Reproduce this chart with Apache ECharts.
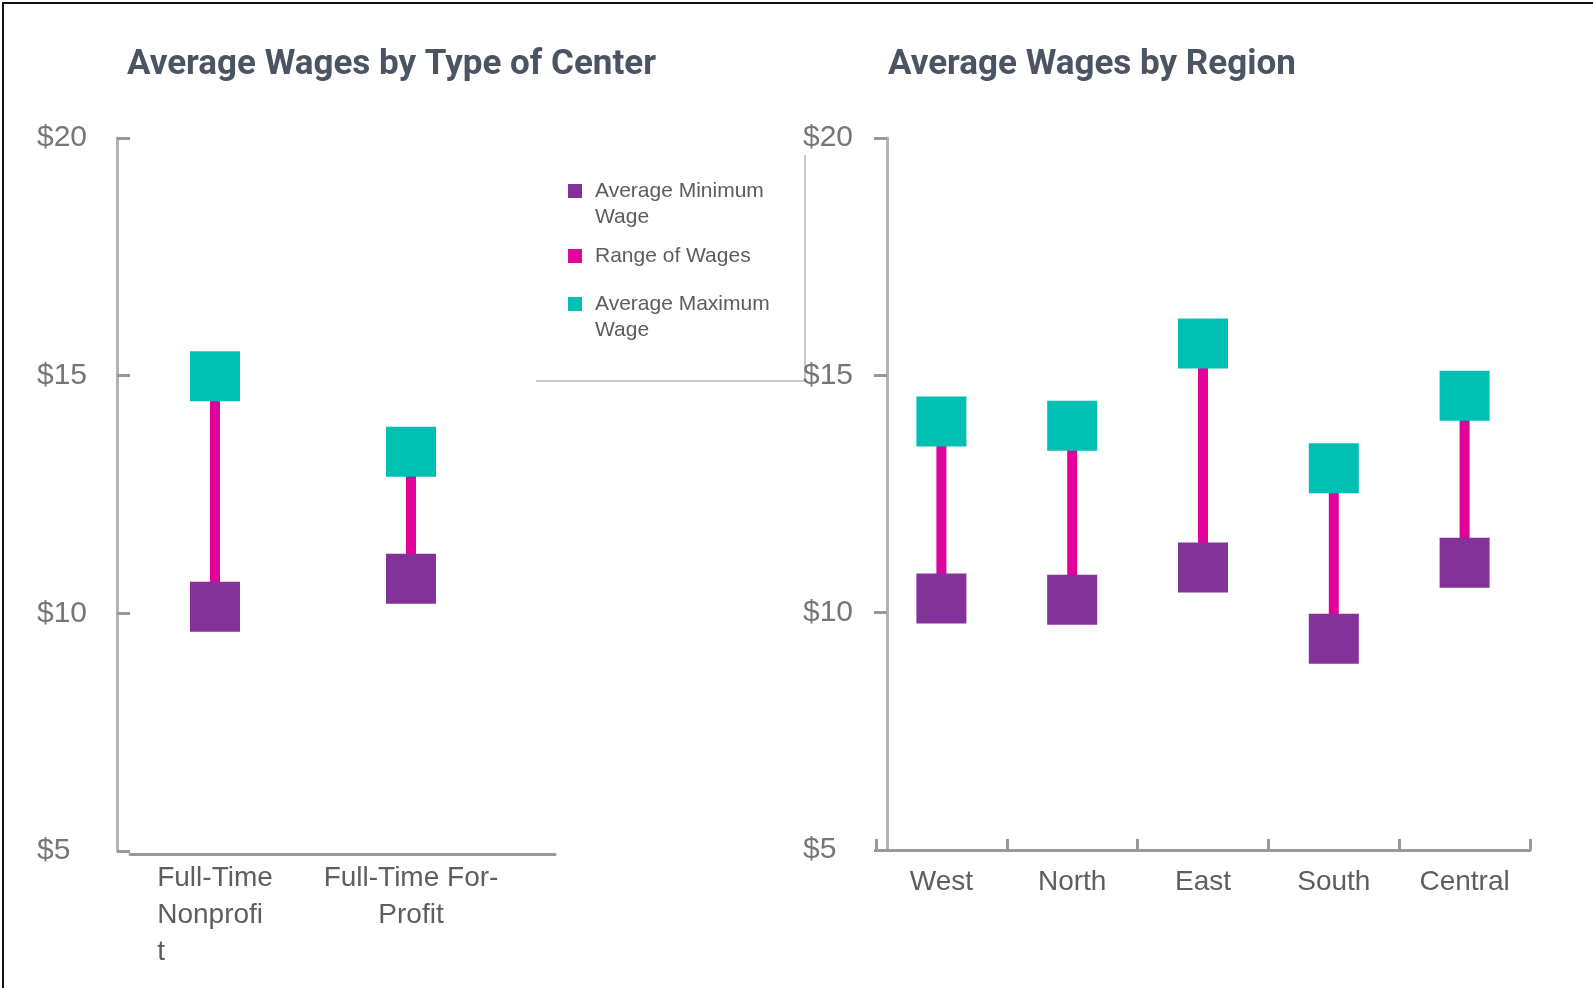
<!DOCTYPE html>
<html>
<head>
<meta charset="utf-8">
<script src="https://cdn.jsdelivr.net/npm/echarts@6/dist/echarts.min.js"></script>
<style>
* {
  margin: 0;
  padding: 0;
}
#chart-container {
  position: relative;
  width: 1593px;
  height: 988px;
  overflow: hidden;
  background: #fff;
}
#frame {
  position: absolute;
  left: 2px;
  top: 2px;
  right: 0;
  bottom: 0;
  border-top: 2px solid #111;
  border-left: 2px solid #111;
  pointer-events: none;
}
</style>
</head>
<body>
<div id="chart-container"></div>
<div id="frame"></div>
<script>
// values
const typeCategories = ['Full-Time\nNonprofi\nt', 'Full-Time For-\nProfit']
const typeMin = [10.14, 10.73]
const typeMax = [14.99, 13.4]

const regionCategories = ['West', 'North', 'East', 'South', 'Central']
const regionMin = [10.3, 10.27, 10.95, 9.45, 11.05]
const regionMax = [14.03, 13.94, 15.67, 13.04, 14.57]

const yTicks = [5, 10, 15, 20]

const NAME_MIN = 'Average Minimum\nWage'
const NAME_RANGE = 'Range of Wages'
const NAME_MAX = 'Average Maximum\nWage'

const PURPLE = '#833299'
const PINK = '#e0029a'
const TEAL = '#00bfb3'

const FONT = "'Liberation Sans', Arial, sans-serif"
const TITLE_FONT = "Roboto, 'Liberation Sans', sans-serif"

const chartDom = document.getElementById('chart-container')
const myChart = echarts.init(chartDom, null, { renderer: 'canvas' })

const rangeRender = (params, api) => {
  const top = api.coord([api.value(0), api.value(2)])
  const bottom = api.coord([api.value(0), api.value(1)])
  return {
    type: 'rect',
    shape: { x: top[0] - 5, y: top[1], width: 10, height: bottom[1] - top[1] },
    style: { fill: PINK }
  }
}

const yAxisBase = (gridIndex, offset, inside, margin) => ({
  type: 'value',
  gridIndex: gridIndex,
  min: yTicks[0],
  max: yTicks[yTicks.length - 1],
  interval: yTicks[1] - yTicks[0],
  offset: offset,
  axisLine: { show: true, lineStyle: { color: '#b3b3b3', width: 3 } },
  axisTick: { show: true, inside: inside, length: 13, lineStyle: { color: '#999', width: 3 } },
  splitLine: { show: false },
  axisLabel: {
    formatter: (v) => '$' + v,
    align: 'left',
    margin: margin,
    fontFamily: FONT,
    fontSize: 30,
    color: '#767676',
    padding: [0, 0, 8, 0]
  }
})

const labelStyle = { fontFamily: FONT, fontSize: 28, color: '#5e5e5e', lineHeight: 37 }

// two-line legend names: a blank first line keeps the marker level with the first text line
const legendBase = {
  orient: 'vertical',
  left: 568,
  padding: 0,
  icon: 'rect',
  itemWidth: 14,
  itemHeight: 14,
  selectedMode: false,
  formatter: (name) => (name.indexOf('\n') >= 0 ? '\n' + name : name)
}
const legendText = {
  fontFamily: FONT,
  fontSize: 21,
  lineHeight: 26,
  color: '#5c5c5c',
  padding: [0, 0, 0, 8]
}

const option = {
  animation: false,
  title: [
    {
      text: 'Average Wages by Type of Center',
      left: 127,
      top: 48,
      padding: 0,
      textStyle: { fontFamily: TITLE_FONT, fontWeight: 'bold', fontSize: 35, color: '#4b5462' }
    },
    {
      text: 'Average Wages by Region',
      left: 888,
      top: 48,
      padding: 0,
      textStyle: { fontFamily: TITLE_FONT, fontWeight: 'bold', fontSize: 35, color: '#4b5462' }
    }
  ],
  legend: [
    Object.assign({}, legendBase, { top: 152, data: [NAME_MIN], textStyle: legendText }),
    Object.assign({}, legendBase, { top: 243, data: [NAME_RANGE], textStyle: legendText }),
    Object.assign({}, legendBase, { top: 265, data: [NAME_MAX], textStyle: legendText })
  ],
  graphic: [
    { type: 'line', shape: { x1: 536, y1: 381, x2: 805, y2: 381 }, style: { stroke: '#c9c9c9', lineWidth: 2 } },
    { type: 'line', shape: { x1: 805, y1: 155, x2: 805, y2: 381 }, style: { stroke: '#c9c9c9', lineWidth: 2 } }
  ],
  grid: [
    { left: 117, top: 138, width: 392, height: 713 },
    { left: 130, top: 138, width: 425, height: 716 },
    { left: 876, top: 138, width: 654, height: 712 }
  ],
  xAxis: [
    {
      type: 'category',
      gridIndex: 0,
      data: typeCategories,
      boundaryGap: true,
      axisLine: { show: false },
      axisTick: { show: false },
      axisLabel: {
        interval: 0,
        margin: 9,
        formatter: (v, i) => v.split('\n').map((s) => (i === 0 ? '{l|' : '{c|') + s + '}').join('\n'),
        rich: {
          l: Object.assign({ align: 'left' }, labelStyle),
          c: Object.assign({ align: 'center' }, labelStyle)
        }
      }
    },
    {
      type: 'value',
      gridIndex: 1,
      min: 0,
      max: 1,
      axisLine: { show: true, onZero: false, lineStyle: { color: '#999', width: 3 } },
      axisTick: { show: false },
      axisLabel: { show: false },
      splitLine: { show: false }
    },
    {
      type: 'category',
      gridIndex: 2,
      data: regionCategories,
      boundaryGap: true,
      axisLine: { show: true, onZero: false, lineStyle: { color: '#999', width: 3 } },
      axisTick: { show: true, inside: true, length: 11, lineStyle: { color: '#999', width: 3 } },
      axisLabel: Object.assign({ interval: 0, margin: 14 }, labelStyle)
    }
  ],
  yAxis: [
    yAxisBase(0, 0, true, 80),
    yAxisBase(2, -11, false, 84),
    { type: 'value', gridIndex: 1, min: 0, max: 1, show: false }
  ],
  series: [
    {
      name: NAME_RANGE,
      type: 'custom',
      xAxisIndex: 0,
      yAxisIndex: 0,
      z: 2,
      itemStyle: { color: PINK },
      renderItem: rangeRender,
      data: typeCategories.map((c, i) => [i, typeMin[i], typeMax[i]])
    },
    {
      name: NAME_MIN,
      type: 'scatter',
      xAxisIndex: 0,
      yAxisIndex: 0,
      z: 3,
      symbol: 'rect',
      symbolSize: 50,
      itemStyle: { color: PURPLE, opacity: 1 },
      data: typeMin
    },
    {
      name: NAME_MAX,
      type: 'scatter',
      xAxisIndex: 0,
      yAxisIndex: 0,
      z: 3,
      symbol: 'rect',
      symbolSize: 50,
      itemStyle: { color: TEAL, opacity: 1 },
      data: typeMax
    },
    {
      name: NAME_RANGE,
      type: 'custom',
      xAxisIndex: 2,
      yAxisIndex: 1,
      z: 2,
      itemStyle: { color: PINK },
      renderItem: rangeRender,
      data: regionCategories.map((c, i) => [i, regionMin[i], regionMax[i]])
    },
    {
      name: NAME_MIN,
      type: 'scatter',
      xAxisIndex: 2,
      yAxisIndex: 1,
      z: 3,
      symbol: 'rect',
      symbolSize: 50,
      itemStyle: { color: PURPLE, opacity: 1 },
      data: regionMin
    },
    {
      name: NAME_MAX,
      type: 'scatter',
      xAxisIndex: 2,
      yAxisIndex: 1,
      z: 3,
      symbol: 'rect',
      symbolSize: 50,
      itemStyle: { color: TEAL, opacity: 1 },
      data: regionMax
    }
  ]
}

myChart.setOption(option)
</script>
</body>
</html>
